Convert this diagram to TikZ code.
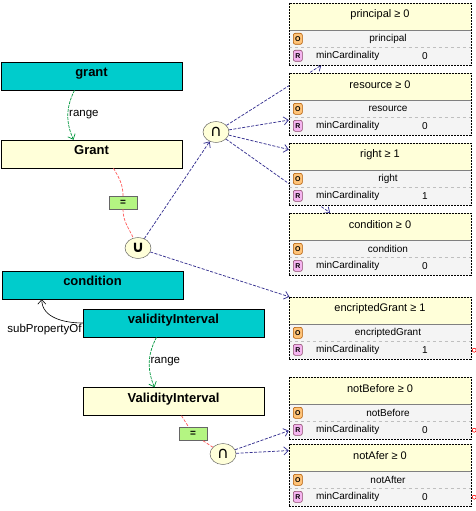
\documentclass[tikz,border=0pt]{standalone}
\usepackage{fontspec}
\setmainfont{Liberation Sans}
\newfontfamily\symfont{DejaVu Sans}
\usetikzlibrary{arrows.meta,shapes.geometric,positioning}

\pgfdeclarelayer{background}
\pgfsetlayers{background,main}

\definecolor{propcyan}{RGB}{0,204,204}
\definecolor{clscream}{RGB}{255,255,217}
\definecolor{rowgray}{RGB}{244,244,244}
\definecolor{eqgreen}{RGB}{180,245,130}
\definecolor{linkblue}{RGB}{55,50,145}
\definecolor{rangegreen}{RGB}{0,150,60}
\definecolor{eqred}{RGB}{255,90,90}
\definecolor{iconO}{RGB}{255,195,120}
\definecolor{iconR}{RGB}{245,180,240}

% restriction box: name, title, property, value
\newcommand{\restr}[4]{%
  \fill[clscream] (#1.north west) rectangle ([yshift=-27pt]#1.north east);
  \draw[gray] ([yshift=-27pt]#1.north west) -- ([yshift=-27pt]#1.north east);
  \draw[gray!50,dashed] ([yshift=-44.5pt]#1.north west) -- ([yshift=-44.5pt]#1.north east);
  \draw[dash pattern=on 2pt off 1pt] (#1.north west) rectangle (#1.south east);
  \node[hdrtxt] (#1-t) at ([yshift=-12pt]#1.north) {#2};
  \node[iconbox,fill=iconO,draw=orange!70!black] (#1-o) at ([xshift=9pt,yshift=-36pt]#1.north west) {O};
  \node[rowtxt] (#1-p) at ([xshift=8pt,yshift=-36pt]#1.north) {#3};
  \node[iconbox,fill=iconR,draw=magenta!50!black] (#1-r) at ([xshift=9pt,yshift=-53pt]#1.north west) {R};
  \node[rowtxt,anchor=west] (#1-m) at ([xshift=27pt,yshift=-53pt]#1.north west) {minCardinality};
  \node[rowtxt] (#1-v) at ([xshift=45pt,yshift=-53pt]#1.north) {#4};
}

\begin{document}
\begin{tikzpicture}[x=1pt,y=-1pt,>={Straight Barb[length=4.5pt,width=8pt]},node distance=70pt]
  \tikzstyle{prop}=[draw=black,fill=propcyan,font=\fontsize{13}{13}\selectfont\bfseries,minimum width=181pt,minimum height=28pt,inner sep=0pt,text height=14.5pt,text depth=13.5pt]
  \tikzstyle{cls}=[prop,fill=clscream]
  \tikzstyle{setop}=[ellipse,draw=black!70,fill=clscream,minimum width=26pt,minimum height=21pt,inner sep=0pt,font=\fontsize{16}{16}\selectfont\symfont]
  \tikzstyle{eq}=[draw=gray!80!black,fill=eqgreen,minimum width=28pt,minimum height=13pt,inner sep=0pt,font=\fontsize{10}{10}\selectfont\bfseries]
  \tikzstyle{restrbox}=[fill=rowgray,minimum width=182pt,minimum height=62pt,inner sep=0pt]
  \tikzstyle{hdrtxt}=[font=\fontsize{11}{11}\selectfont,inner sep=0pt]
  \tikzstyle{rowtxt}=[font=\fontsize{10}{10}\selectfont,inner sep=0pt]
  \tikzstyle{iconbox}=[rounded corners=2pt,minimum width=9pt,minimum height=11pt,inner sep=0pt,font=\fontsize{7}{7}\selectfont\bfseries,line width=0.6pt]
  \tikzstyle{linkarr}=[->,linkblue,line width=0.75pt,dash pattern=on 3pt off 1.5pt]
  \tikzstyle{rng}=[->,rangegreen,line width=0.7pt,dash pattern=on 3pt off 1pt]
  \tikzstyle{eqline}=[eqred,line width=0.7pt,dash pattern=on 3pt off 1.5pt]
  \tikzstyle{lbl}=[black,font=\fontsize{11.5}{11.5}\selectfont,inner sep=1pt]

  \useasboundingbox (0,0) rectangle (476,511);

  % left column
  \node[prop] (grantP) at (91.5,76)                      {grant};
  \node[cls]  (grantC) [below of=grantP,node distance=78pt] {Grant};
  \node[prop] (condP)  at (92.5,285)                     {condition};
  \node[prop] (vintP)  at (173.5,323)                    {validityInterval};
  \node[cls]  (vintC)  [below of=vintP,node distance=78.5pt] {ValidityInterval};

  \node[eq]    (eq1)   at (123,202.5) {=};
  \node[setop] (union) at (138,248)   {\bfseries ∪};
  \node[setop] (capA)  at (216,132)   {∩};
  \node[eq]    (eq2)   at (193,434)   {=};
  \node[setop] (capB)  at (223,454)   {∩};

  % restrictions
  \node[restrbox] (principalR) at (380,34)          {};
  \node[restrbox] (resourceR)  [below of=principalR] {};
  \node[restrbox] (rightR)     [below of=resourceR]  {};
  \node[restrbox] (condR)      [below of=rightR]     {};
  \node[restrbox] (encR)       at (380,328)         {};
  \node[restrbox] (nbR)        at (380,408)         {};
  \node[restrbox] (naR)        [below of=nbR,node distance=67pt] {};

  \restr{principalR}{principal ≥ 0}{principal}{0}
  \restr{resourceR}{resource ≥ 0}{resource}{0}
  \restr{rightR}{right ≥ 1}{right}{1}
  \restr{condR}{condition ≥ 0}{condition}{0}
  \restr{encR}{encriptedGrant ≥ 1}{encriptedGrant}{1}
  \restr{nbR}{notBefore ≥ 0}{notBefore}{0}
  \restr{naR}{notAfer ≥ 0}{notAfter}{0}

  \foreach \r in {encR,nbR,naR}
    \draw[red,line width=0.6pt] ([xshift=3pt,yshift=9pt]\r.south east) circle (2pt);

  \begin{pgfonlayer}{background}
    \draw[linkarr] (union) -- (capA);
    \draw[linkarr] (union) -- (encR.161);
    \draw[linkarr] (capA) -- (principalR.208);
    \draw[linkarr] (capA) -- (resourceR.190);
    \draw[linkarr] (capA) -- (rightR.165);
    \draw[linkarr] (capA) -- (condR.148);
    \draw[linkarr] (capB) -- (nbR.194);
    \draw[linkarr] (capB) -- (naR.165);
  \end{pgfonlayer}

  \draw[rng] ([xshift=-17pt]grantP.south) to[bend right=25] node[lbl,right] (rangeA) {range} ([xshift=-18pt]grantC.north);
  \draw[rng] ([xshift=-17pt]vintP.south) to[bend right=25] node[lbl,right] (rangeB) {range} ([xshift=-19pt]vintC.north);
  \draw[->,line width=0.6pt] (vintP.west) to[out=180,in=-90] node[lbl,pos=0,anchor=north east] (subP) {subPropertyOf} ([xshift=40pt]condP.south west);

  \draw[eqline] ([xshift=22pt]grantC.south) to[out=-60,in=90] (eq1);
  \draw[eqline] (eq1) to[out=-90,in=115] (union);
  \draw[eqline] ([xshift=8pt]vintC.south) -- (eq2) -- (capB);
\end{tikzpicture}
\end{document}
